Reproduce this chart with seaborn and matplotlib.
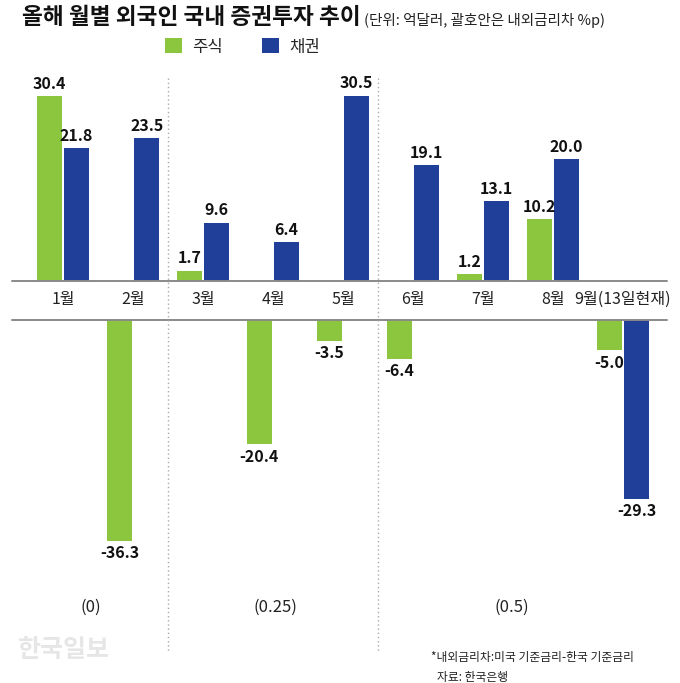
import pandas as pd
import matplotlib
matplotlib.use("Agg")
import matplotlib.pyplot as plt
import matplotlib.transforms as mtransforms
from matplotlib.lines import Line2D
import seaborn as sns

# data (억달러)
months = ['1월', '2월', '3월', '4월', '5월', '6월', '7월', '8월', '9월(13일현재)']
stock = [30.4, -36.3, 1.7, -20.4, -3.5, -6.4, 1.2, 10.2, -5.0]
bond = [21.8, 23.5, 9.6, 6.4, 30.5, 19.1, 13.1, 20.0, -29.3]
series_names = ['주식', '채권']
colors = ['#8cc63f', '#1f3f98']
# interest-rate gap periods (label, group position)
period_labels = ['(0)', '(0.25)', '(0.5)']
period_pos = [0.39, 3.04, 6.41]
separators = [1.5, 4.5]

sns.set_theme(style="white")
plt.rcParams['font.family'] = ['Noto Sans CJK KR', 'DejaVu Sans']
plt.rcParams['axes.unicode_minus'] = False

rows = []
for m, s, b in zip(months, stock, bond):
    rows.append({'month': m, 'type': series_names[0], 'value': s})
    rows.append({'month': m, 'type': series_names[1], 'value': b})
df = pd.DataFrame(rows)
df['pos'] = df['value'].clip(lower=0)
df['neg'] = df['value'].clip(upper=0)

W, H = 680, 683
fig = plt.figure(figsize=(W / 100, H / 100), dpi=100)

ax_top = fig.add_axes([12 / W, (H - 281) / H, 655 / W, (281 - 70) / H])
ax_bot = fig.add_axes([12 / W, (H - 590) / H, 655 / W, (590 - 320) / H])

for ax, col in [(ax_top, 'pos'), (ax_bot, 'neg')]:
    sns.barplot(data=df, x='month', y=col, hue='type', order=months,
                hue_order=series_names, palette=colors, saturation=1,
                width=0.78, gap=0.08, errorbar=None, linewidth=0,
                legend=(ax is ax_top), ax=ax)
    for cont, vals in zip(ax.containers, [stock, bond]):
        if col == 'pos':
            labels = [f"{v:.1f}" if v > 0 else "" for v in vals]
        else:
            labels = [f"{v:.1f}" if v < 0 else "" for v in vals]
        ax.bar_label(cont, labels=labels, padding=3, fontsize=11.5,
                     fontweight='bold', color='#111111')
    ax.set_xlim(-0.729, 8.629)
    ax.axhline(0, color='#8a8a8a', lw=1.4, clip_on=False, zorder=5)
    ax.set_xlabel('')
    ax.set_ylabel('')
    ax.set_yticks([])
    for sp in ax.spines.values():
        sp.set_visible(False)

ax_top.set_ylim(0, 34.7)
ax_bot.set_ylim(-44.3, 0)
ax_bot.set_xticks([])
ax_top.tick_params(axis='x', length=0, pad=7, labelsize=11.5, labelcolor='#222222')

sns.move_legend(ax_top, loc='center left', bbox_to_anchor=(150 / W, 1 - 47 / H),
                bbox_transform=fig.transFigure, ncol=2, frameon=False, title=None,
                fontsize=12, handlelength=1.0, handleheight=1.0,
                columnspacing=2.4, handletextpad=0.6)

# dotted separators between rate periods
trans = mtransforms.blended_transform_factory(ax_top.transData, fig.transFigure)
for xs in separators:
    fig.add_artist(Line2D([xs, xs], [1 - 78 / H, 1 - 652 / H], transform=trans,
                          color='#aaaaaa', lw=1.0, linestyle=(0, (1, 2))))
for lab, xp in zip(period_labels, period_pos):
    fig.text(xp, 1 - 607 / H, lab, transform=trans, ha='center', va='center',
             fontsize=12, color='#222222')

fig.text(22 / W, 1 - 18 / H, '올해 월별 외국인 국내 증권투자 추이', fontsize=16.3,
         fontweight='bold', ha='left', va='center', color='#111111')
fig.text(364 / W, 1 - 20 / H, '(단위: 억달러, 괄호안은 내외금리차 %p)', fontsize=10.5,
         ha='left', va='center', color='#222222')

fig.text(18 / W, 1 - 650 / H, '한국일보', fontsize=18, fontweight='bold',
         color='#e6e6e6', ha='left', va='center')
fig.text(431 / W, 1 - 658 / H, '*내외금리차:미국 기준금리-한국 기준금리', fontsize=8.5,
         ha='left', va='center', color='#222222')
fig.text(437 / W, 1 - 677 / H, '자료: 한국은행', fontsize=8.5,
         ha='left', va='center', color='#222222')

fig.savefig('out.png', dpi=100)
